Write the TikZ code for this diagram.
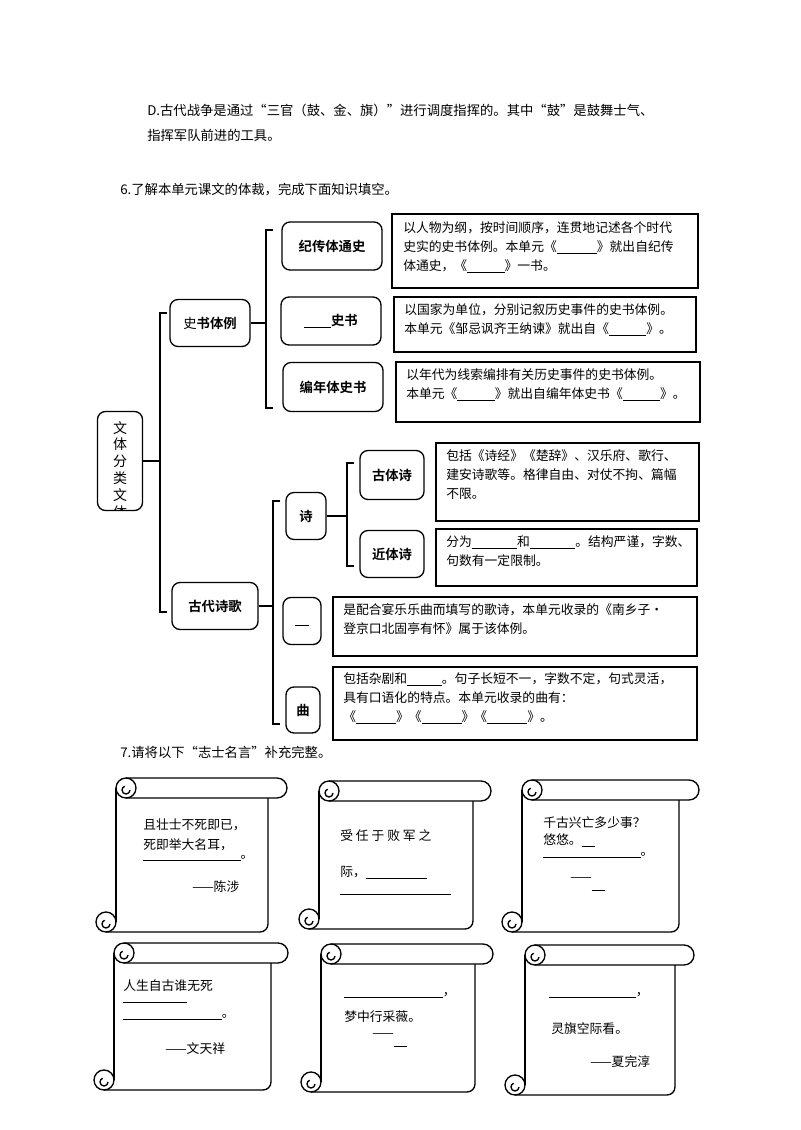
\documentclass[tikz,border=0pt]{standalone}
\usepackage{fontspec}
\setmainfont{Noto Sans CJK SC}[BoldFont={Noto Sans CJK SC Bold}]
\newcommand\blank[1]{\underline{\hspace{#1pt}}}
\newcommand\px[1]{#1*0.75pt}
% scroll: left x, top y, roll right x, body right x, bottom y
\newcommand\scrollbox[5]{%
  \draw[roll] (#1+10,#2) -- (#3-10,#2) arc[start angle=-90,end angle=90,radius=10] -- (#1+10,#2+20);
  \draw[roll] (#1+10,#2+10) circle[radius=10];
  \draw[roll] (#1+14,#2+12) arc[start angle=0,end angle=250,radius=4];
  \draw[roll] (#1,#2+10) -- (#1,#5-10);
  \draw[roll] (#4,#2+20) -- (#4,#5-8) arc[start angle=0,end angle=90,radius=8] -- (#1-10,#5);
  \draw[roll] (#1-10,#5-10) circle[radius=10];
  \draw[roll] (#1-6,#5-8) arc[start angle=0,end angle=250,radius=4];
}
\tikzset{
  key/.style={draw, rounded corners=6pt, line width=1pt, inner sep=0pt,
    font=\bfseries\fontsize{10}{12}\selectfont},
  frame/.style={draw, line width=0.8pt},
  note/.style={anchor=north west, align=left, inner sep=0pt,
    font=\fontsize{9.6}{14.4}\selectfont},
  brace/.style={line width=1pt},
  line/.style={anchor=west, inner sep=0pt, font=\fontsize{10}{12}\selectfont},
  quote/.style={anchor=west, inner sep=0pt, font=\fontsize{9.6}{12}\selectfont},
  roll/.style={line width=1pt}
}
\begin{document}
\begin{tikzpicture}[x=0.75pt,y=-0.75pt]
\useasboundingbox (0,0) rectangle (800,1130);

\node[line] (lineD) at (147,110) {D.古代战争是通过“三官（鼓、金、旗）”进行调度指挥的。其中“鼓”是鼓舞士气、};
\node[line] (lineD2) at (147,135) {指挥军队前进的工具。};
\node[line] (q6) at (120,190) {6.了解本单元课文的体裁，完成下面知识填空。};

% root
\node[draw, rounded corners=6pt, line width=1pt, minimum width=\px{45}, minimum height=\px{99}] (root) at (120,461) {};
\begin{scope}
  \clip (98,413) rectangle (142,509);
  \node[anchor=north, align=center, inner sep=0pt, font=\fontsize{10.5}{12.6}\selectfont] (roottext) at (120,421) {文\\体\\分\\类\\文\\体};
\end{scope}

% level 1
\node[key, minimum width=\px{80}, minimum height=\px{47}] (sstl) at (210,323) {\mdseries 史\bfseries 书体例};
\node[key, minimum width=\px{86}, minimum height=\px{47}] (gdsg) at (215,606) {古代诗歌};

% level 2
\node[key, minimum width=\px{100}, minimum height=\px{48}] (jzt) at (332,246) {纪传体通史};
\node[key, minimum width=\px{100}, minimum height=\px{48}] (gbt) at (331,321) {\blank{20}史书};
\node[key, minimum width=\px{100}, minimum height=\px{49}] (bnt) at (333,387) {编年体史书};
\node[key, minimum width=\px{40}, minimum height=\px{47}] (shi) at (306,516) {诗};
\node[key, minimum width=\px{38}, minimum height=\px{47}] (ci) at (302,621) {\raisebox{-6pt}{\blank{10}}};
\node[key, minimum width=\px{34}, minimum height=\px{46}] (qu) at (303,710) {曲};
\node[key, minimum width=\px{64}, minimum height=\px{49}] (gts) at (392,475) {古体诗};
\node[key, minimum width=\px{64}, minimum height=\px{47}] (jts) at (392,554) {近体诗};

% brackets
\draw[brace] (167,313) -- (160,313) -- (160,612) -- (167,612);
\draw[brace] (root.east) -- ++(18,0);
\draw[brace] (273,230) -- (266,230) -- (266,408) -- (273,408);
\draw[brace] (sstl.east) -- ++(16,0);
\draw[brace] (280,501) -- (273,501) -- (273,724) -- (280,724);
\draw[brace] (gdsg.east) -- ++(15,0);
\draw[brace] (354,463) -- (347,463) -- (347,566) -- (354,566);
\draw[brace] (shi.east) -- ++(21,0);

% notes
\draw[frame] (392,214) rectangle (698,288);
\node[note] (n1) at (403,221) {以人物为纲，按时间顺序，连贯地记述各个时代\\史实的史书体例。本单元《\blank{30}》就出自纪传\\体通史，《\blank{28}》一书。};
\draw[frame] (394,297) rectangle (696,352);
\node[note] (n2) at (404,303) {以国家为单位，分别记叙历史事件的史书体例。\\本单元《邹忌讽齐王纳谏》就出自《\blank{28}》。};
\draw[frame] (396,362) rectangle (700,422);
\node[note] (n3) at (406,368) {以年代为线索编排有关历史事件的史书体例。\\本单元《\blank{28}》就出自编年体史书《\blank{28}》。};
\draw[frame] (436,443) rectangle (699,521);
\node[note] (n4) at (446,449) {包括《诗经》《楚辞》、汉乐府、歌行、\\建安诗歌等。格律自由、对仗不拘、篇幅\\不限。};
\draw[frame] (436,529) rectangle (697,586);
\node[note] (n5) at (446,535) {分为\blank{34}和\blank{34}。结构严谨，字数、\\句数有一定限制。};
\draw[frame] (333,597) rectangle (697,656);
\node[note] (n6) at (343,603) {是配合宴乐乐曲而填写的歌诗，本单元收录的《南乡子·\\登京口北固亭有怀》属于该体例。};
\draw[frame] (333,667) rectangle (697,740);
\node[note] (n7) at (343,672) {包括杂剧和\blank{26}。句子长短不一，字数不定，句式灵活，\\具有口语化的特点。本单元收录的曲有：\\《\blank{30}》《\blank{30}》《\blank{30}》。};

\node[line] (q7) at (120,752) {7.请将以下“志士名言”补充完整。};

% scrolls
\scrollbox{116}{778}{287}{268}{932}
\scrollbox{319}{781}{491}{473}{929}
\scrollbox{522}{780}{699}{679}{932}
\scrollbox{114}{943}{288}{271}{1090}
\scrollbox{321}{944}{493}{475}{1092}
\scrollbox{525}{945}{694}{675}{1095}

\node[quote] (s1a) at (143,825) {且壮士不死即已，};
\node[quote] (s1b) at (143,845) {死即举大名耳，};
\node[quote] (s1c) at (143,858) {\blank{73}。};
\node[quote] (s1d) at (192,887) {——陈涉};

\node[quote] (s2a) at (340,836) {受\ 任\ 于\ 败\ 军\ 之};
\node[quote] (s2b) at (340,873) {际，\blank{46}};
\node[quote] (s2c) at (340,894) {\blank{83}};

\node[quote] (s3a) at (543,823) {千古兴亡多少事？};
\node[quote] (s3b) at (543,840) {悠悠。\blank{10}};
\node[quote] (s3c) at (543,855) {\blank{73}。};
\node[quote] (s3d) at (570,884) {——\raisebox{-5pt}{\blank{10}}};

\node[quote] (s4a) at (123,986) {人生自古谁无死};
\node[quote] (s4b) at (123,1002) {\blank{48}};
\node[quote] (s4c) at (123,1017) {\blank{74}。};
\node[quote] (s4d) at (165,1049) {——文天祥};

\node[quote] (s5a) at (344,995) {\blank{74}，};
\node[quote] (s5b) at (344,1017) {梦中行采薇。};
\node[quote] (s5c) at (372,1040) {——\raisebox{-5pt}{\blank{10}}};

\node[quote] (s6a) at (549,995) {\blank{65}，};
\node[quote] (s6b) at (551,1029) {灵旗空际看。};
\node[quote] (s6c) at (590,1062) {——夏完淳};
\end{tikzpicture}
\end{document}
